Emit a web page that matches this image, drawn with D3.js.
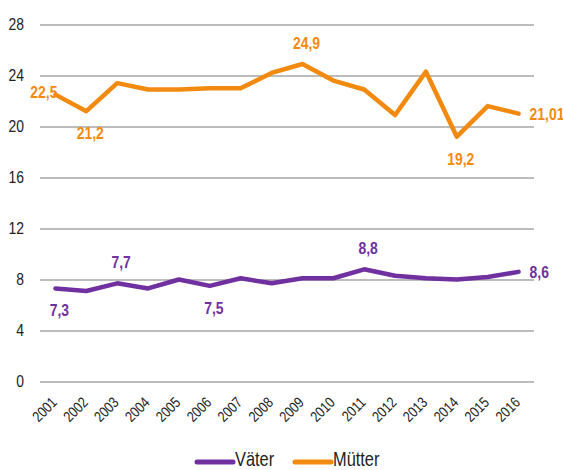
<!DOCTYPE html>
<html>
<head>
<meta charset="utf-8">
<script src="https://cdn.jsdelivr.net/npm/d3@7"></script>
<style>
  body { margin: 0; background: #fff; }
  svg text { font-family: "Liberation Sans", Arial, sans-serif; }
</style>
</head>
<body>
<svg id="chart" width="563" height="470"></svg>
<script>
// Data ----------------------------------------------------------------------
var years = ["2001","2002","2003","2004","2005","2006","2007","2008",
             "2009","2010","2011","2012","2013","2014","2015","2016"];
var vaeter = [7.3, 7.1, 7.7, 7.3, 8.0, 7.5, 8.1, 7.7, 8.1, 8.1, 8.8, 8.3, 8.1, 8.0, 8.2, 8.6];
var muetter = [22.5, 21.2, 23.4, 22.9, 22.9, 23.0, 23.0, 24.2, 24.9, 23.6, 22.9, 20.9, 24.3, 19.2, 21.6, 21.01];
var yTicks = [0, 4, 8, 12, 16, 20, 24, 28];

// which points carry a value label, and where
var vaeterLabels = [[0, "below", "7,3"], [2, "above", "7,7"], [5, "below", "7,5"], [10, "above", "8,8"], [15, "right", "8,6"]];
var muetterLabels = [[0, "left", "22,5"], [1, "below", "21,2"], [8, "above", "24,9"], [13, "below", "19,2"], [15, "right", "21,01"]];

// Chart -----------------------------------------------------------------------
var svg = d3.select("#chart");
var mLeft = 40, mRight = 534, mTop = 24.5, mBottom = 381.5;
var purple = "#7030A0", orange = "#F28A0F";
var narrow = 0.82; // squeeze Liberation Sans toward Arial Narrow

var x = d3.scalePoint().domain(years).range([mLeft, mRight]).padding(0.5);
var y = d3.scaleLinear().domain([0, 28]).range([mBottom, mTop]);

// gridlines + y labels
var yAxis = d3.axisLeft(y).tickValues(yTicks).tickSize(-(mRight - mLeft)).tickPadding(0);
var gy = svg.append("g").attr("transform", "translate(" + mLeft + ",0)").call(yAxis);
gy.select(".domain").remove();
gy.selectAll(".tick line").attr("stroke", "#a6a6a6").attr("stroke-width", 1.3);
gy.selectAll(".tick text").attr("font-size", 17).attr("fill", "#222")
  .attr("x", -16 / narrow)
  .attr("transform", "scale(" + narrow + ",1)");

// x labels
var xAxis = d3.axisBottom(x).tickSize(0).tickPadding(0);
var gx = svg.append("g").attr("transform", "translate(0," + mBottom + ")").call(xAxis);
gx.select(".domain").remove();
gx.selectAll(".tick text")
  .attr("font-size", 15).attr("fill", "#222")
  .attr("text-anchor", "end")
  .attr("dy", 0).attr("y", 0)
  .attr("transform", "translate(2,22) rotate(-45) scale(" + narrow + ",1)");

// lines
var line = d3.line().x(function (d, i) { return x(years[i]); }).y(function (d) { return y(d); });

svg.append("path").datum(muetter).attr("d", line)
  .attr("fill", "none").attr("stroke", orange).attr("stroke-width", 4.5)
  .attr("stroke-linejoin", "round").attr("stroke-linecap", "round");
svg.append("path").datum(vaeter).attr("d", line)
  .attr("fill", "none").attr("stroke", purple).attr("stroke-width", 4.5)
  .attr("stroke-linejoin", "round").attr("stroke-linecap", "round");

// narrow text at a position
function narrowText(px, py, str, anchor) {
  return svg.append("g").attr("transform", "translate(" + px + "," + py + ")")
    .append("text").text(str).attr("text-anchor", anchor)
    .attr("transform", "scale(" + narrow + ",1)");
}

// value labels
function addLabels(series, labels, color) {
  labels.forEach(function (l) {
    var px = x(years[l[0]]), py = y(series[l[0]]);
    var t;
    if (l[1] == "above") { t = narrowText(px + 4, py - 15, l[2], "middle"); }
    else if (l[1] == "below") { t = narrowText(px + 4, py + 28, l[2], "middle"); }
    else if (l[1] == "left") { t = narrowText(px + 2, py + 3, l[2], "end"); }
    else { t = narrowText(px + 11, py + 6, l[2], "start"); }
    t.attr("font-size", 17).attr("font-weight", "bold").attr("fill", color);
  });
}
addLabels(muetter, muetterLabels, orange);
addLabels(vaeter, vaeterLabels, purple);

// legend
var legend = [["Väter", purple, 195], ["Mütter", orange, 293]];
legend.forEach(function (d) {
  svg.append("line").attr("x1", d[2] + 2).attr("x2", d[2] + 38).attr("y1", 462).attr("y2", 462)
    .attr("stroke", d[1]).attr("stroke-width", 5).attr("stroke-linecap", "round");
  narrowText(d[2] + 40, 466, d[0], "start").attr("font-size", 20).attr("fill", "#222");
});
</script>
</body>
</html>
